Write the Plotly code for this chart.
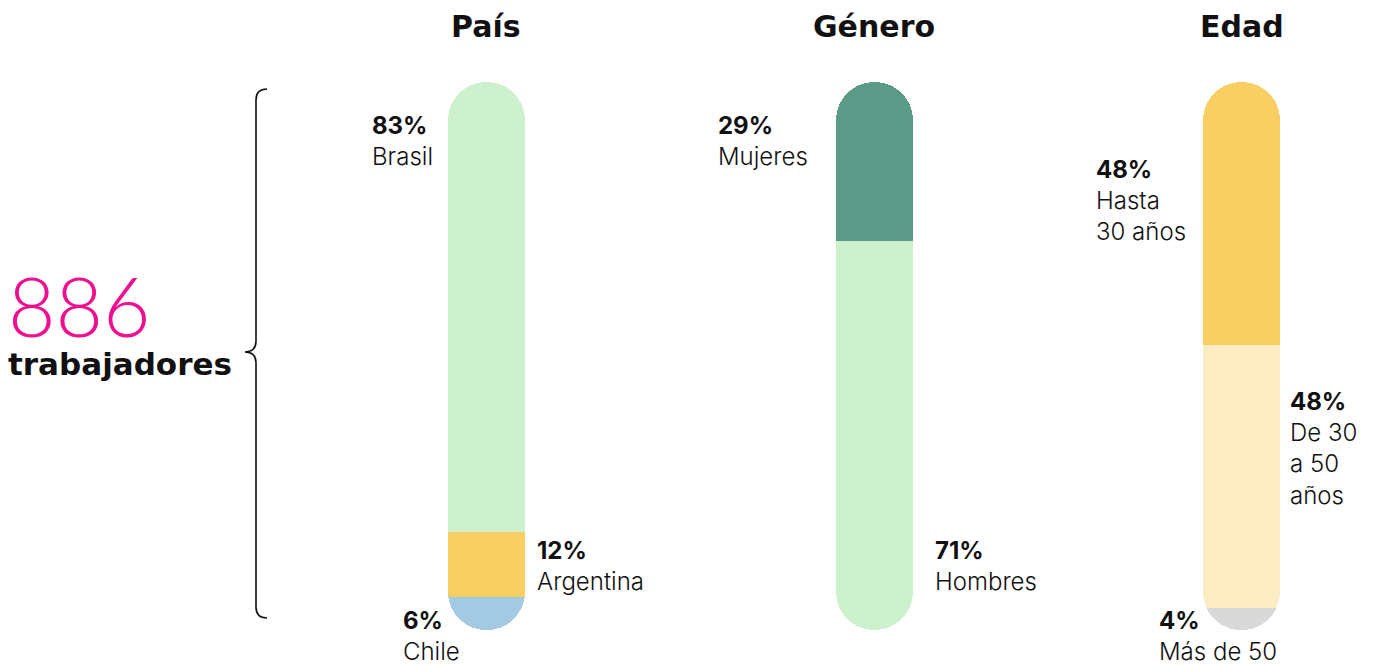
import plotly.graph_objects as go

# ---------------- data ----------------
groups = ["País", "Género", "Edad"]

pais_labels = ["Brasil", "Argentina", "Chile"]
pais_values = [83, 12, 6]
pais_colors = ["#CDF0CD", "#F8CF62", "#A3C9E3"]

genero_labels = ["Mujeres", "Hombres"]
genero_values = [29, 71]
genero_colors = ["#5B9A86", "#CDF0CD"]

edad_labels = ["Hasta<br>30 años", "De 30<br>a 50<br>años", "Más de 50"]
edad_values = [48, 48, 4]
edad_colors = ["#F8CF62", "#FBECC4", "#D9D9D9"]

total_workers = 886
total_label = "trabajadores"

# ---------------- layout helpers ----------------
# page body has an 8px margin: map reference pixels into figure coordinates
OFF = 8
W, H = 1375 - OFF, 665 - OFF
def X(px):
    return (px - OFF) / W
def Y(py):
    return 1 - (py - OFF) / H

BAR_TOP, BAR_BOTTOM = 82, 630
bar_cols = [(448, 525), (836, 913), (1203, 1280)]

series = [
    (pais_labels, pais_values, pais_colors),
    (genero_labels, genero_values, genero_colors),
    (edad_labels, edad_values, edad_colors),
]

fig = go.Figure()
layout_axes = {}
for i, (grp, (labels, values, colors)) in enumerate(zip(groups, series)):
    ax = "" if i == 0 else str(i + 1)
    for j, (lab, val, col) in enumerate(zip(labels, values, colors)):
        # first segment stacks upward, the rest downward (so both ends round)
        v = val if j == 0 else -val
        fig.add_trace(go.Bar(
            x=[grp], y=[v], name=lab.replace("<br>", " "),
            marker=dict(color=col, line=dict(width=0)),
            xaxis="x" + ax, yaxis="y" + ax,
            hovertemplate=f"{lab.replace('<br>', ' ')}: {val}%<extra></extra>",
            showlegend=False,
        ))
    neg = sum(values[1:])
    x0, x1 = bar_cols[i]
    layout_axes["xaxis" + ax] = dict(domain=[X(x0), X(x1)], type="category",
                                     range=[-0.5, 0.5], visible=False,
                                     anchor="y" + ax, fixedrange=True)
    layout_axes["yaxis" + ax] = dict(domain=[Y(BAR_BOTTOM), Y(BAR_TOP)],
                                     range=[-neg, values[0]], visible=False,
                                     anchor="x" + ax, fixedrange=True)

fig.update_layout(**layout_axes)

LABEL_FONT = dict(family="Inter, Roboto, Liberation Sans, Arial", size=24, color="#111111", weight=300)
TITLE_FONT = dict(family="DejaVu Sans, sans-serif", size=30, color="#111111", weight=700)

annotations = []
# titles
for grp, (x0, x1) in zip(groups, bar_cols):
    annotations.append(dict(x=X((x0 + x1) / 2), y=Y(27), xref="paper", yref="paper",
                            text=grp, showarrow=False, font=TITLE_FONT,
                            xanchor="center", yanchor="middle"))

# segment labels: (group index, segment index, left px, cap-top px)
label_pos = [
    (0, 0, 371, 117), (0, 1, 536, 542), (0, 2, 402, 612),
    (1, 0, 717, 117), (1, 1, 934, 542),
    (2, 0, 1095, 161), (2, 1, 1289, 393), (2, 2, 1158, 612),
]
for gi, si, lx, ty in label_pos:
    labels, values, _ = series[gi]
    annotations.append(dict(x=X(lx - 1), y=Y(ty - 8), xref="paper", yref="paper",
                            text=f"<b>{values[si]}%</b><br>{labels[si]}",
                            showarrow=False, font=LABEL_FONT, align="left",
                            xanchor="left", yanchor="top"))

# total (one block: big number over bold label)
annotations.append(dict(
    x=X(6), y=Y(384), xref="paper", yref="paper",
    text=(f"<span style='font-size:82px;color:#EE108F;font-family:Lato;font-weight:300'>"
          f"{total_workers}</span><br>"
          f"<span style='font-size:31px'><b>{total_label}</b></span>"),
    showarrow=False, align="left",
    font=dict(family="DejaVu Sans, sans-serif", size=29, color="#111111"),
    xanchor="left", yanchor="bottom"))

# curly brace
bx, tipx, hookx = 256, 245, 267
top, mid, bot = 89, 352, 618
path = (
    f"M {X(hookx)},{Y(top)} Q {X(bx)},{Y(top)} {X(bx)},{Y(top + 11)} "
    f"L {X(bx)},{Y(mid - 11)} Q {X(bx)},{Y(mid)} {X(tipx)},{Y(mid)} "
    f"Q {X(bx)},{Y(mid)} {X(bx)},{Y(mid + 11)} "
    f"L {X(bx)},{Y(bot - 11)} Q {X(bx)},{Y(bot)} {X(hookx)},{Y(bot)}"
)
shapes = [dict(type="path", path=path, xref="paper", yref="paper",
               line=dict(color="#111111", width=1.6))]

fig.update_layout(
    width=W, height=H,
    margin=dict(l=0, r=0, t=0, b=0),
    paper_bgcolor="white", plot_bgcolor="rgba(0,0,0,0)",
    barmode="relative", bargap=0, barcornerradius="50%",
    annotations=annotations, shapes=shapes,
    showlegend=False,
)

fig.write_html("out.html")
